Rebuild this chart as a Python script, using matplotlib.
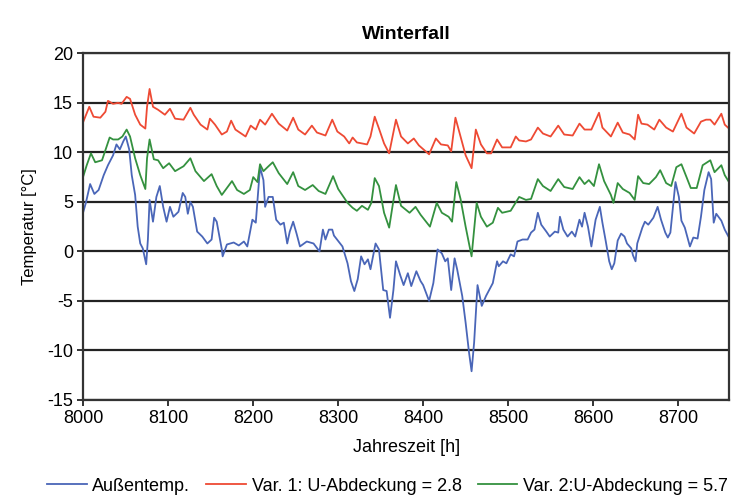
#!/usr/bin/env python3
"""
Winterfall temperature chart

Plots outside temperature and two cover variants over the
last hours of the year (h 8000 - 8760).
"""

import matplotlib
matplotlib.use("Agg")
import matplotlib.pyplot as plt

# Values (hour of year, degC)
hours_aussen = [8000, 8003, 8008, 8013, 8018, 8024, 8029, 8035, 8039, 8043, 8047, 8050, 8054, 8057,
                8061, 8064, 8067, 8070, 8074, 8076, 8078, 8082, 8086, 8090, 8094, 8098, 8102, 8106,
                8112, 8117, 8120, 8123, 8126, 8129, 8134, 8140, 8146, 8151, 8154, 8157, 8163, 8164,
                8169, 8177, 8183, 8189, 8193, 8199, 8203, 8208, 8212, 8214, 8218, 8223, 8227, 8232,
                8236, 8240, 8243, 8247, 8251, 8255, 8263, 8271, 8278, 8282, 8285, 8289, 8293, 8295,
                8305, 8311, 8315, 8319, 8323, 8327, 8331, 8335, 8338, 8344, 8348, 8353, 8357, 8361,
                8365, 8368, 8373, 8377, 8382, 8386, 8392, 8397, 8400, 8407, 8412, 8417, 8422, 8426,
                8429, 8433, 8437, 8440, 8446, 8450, 8454, 8457, 8460, 8464, 8469, 8474, 8479, 8482,
                8487, 8489, 8494, 8498, 8503, 8507, 8511, 8517, 8523, 8527, 8531, 8535, 8539, 8545,
                8549, 8555, 8559, 8561, 8565, 8570, 8575, 8579, 8584, 8587, 8590, 8594, 8598, 8603,
                8608, 8611, 8615, 8619, 8622, 8625, 8629, 8633, 8637, 8640, 8645, 8647, 8650, 8652,
                8658, 8661, 8665, 8671, 8676, 8680, 8685, 8688, 8691, 8697, 8701, 8704, 8708, 8714,
                8718, 8723, 8727, 8731, 8736, 8739, 8742, 8745, 8751, 8755, 8760]
temp_aussen = [4.0, 4.9, 6.8, 5.8, 6.2, 7.7, 8.7, 9.7, 10.8, 10.3, 11.1, 11.6, 10.3, 7.7,
               5.7, 2.5, 0.8, 0.3, -1.3, 1.2, 5.2, 3.0, 5.5, 6.6, 4.5, 3.0, 4.5, 3.5,
               4.0, 5.9, 5.5, 3.8, 5.0, 4.5, 2.0, 1.5, 0.8, 1.2, 3.4, 3.0, 0.2, -0.5,
               0.7, 0.9, 0.6, 1.0, 0.5, 3.2, 2.9, 8.5, 7.2, 4.5, 5.5, 5.5, 3.2, 2.7,
               2.9, 0.8, 2.0, 3.0, 1.8, 0.5, 1.0, 0.8, 0.0, 2.2, 1.2, 2.2, 2.2, 1.6,
               0.5, -1.2, -3.0, -4.0, -2.8, -0.5, -1.3, -0.8, -1.8, 0.8, 0.2, -3.9, -4.0, -6.7,
               -3.9, -1.0, -2.4, -3.4, -2.2, -3.5, -2.0, -3.0, -3.4, -5.0, -3.2, 0.2, -0.2, -1.0,
               -0.7, -3.9, -0.7, -1.8, -4.5, -7.2, -10.2, -12.1, -9.2, -3.4, -5.5, -4.5, -3.7, -3.2,
               -1.0, -1.5, -1.0, -1.2, -0.3, -0.5, 1.0, 1.2, 1.2, 1.9, 2.2, 3.9, 2.7, 2.0,
               1.5, 2.0, 1.9, 3.5, 2.2, 1.5, 2.0, 1.5, 3.2, 2.5, 3.9, 2.5, 0.5, 3.2,
               4.5, 2.9, 1.0, -1.0, -1.8, -1.2, 1.1, 1.8, 1.5, 0.8, 0.3, -0.4, -1.0, 0.8,
               2.4, 3.0, 2.7, 3.4, 4.5, 3.2, 1.9, 1.4, 1.9, 7.0, 5.5, 3.1, 2.4, 0.5,
               1.4, 1.3, 3.5, 6.2, 8.0, 7.3, 2.9, 3.8, 3.1, 2.2, 1.4]

hours_var1 = [8000, 8007, 8012, 8020, 8026, 8029, 8035, 8041, 8045, 8051, 8055, 8061, 8067, 8073,
              8075, 8078, 8082, 8088, 8096, 8102, 8108, 8118, 8126, 8130, 8138, 8146, 8149, 8155,
              8163, 8169, 8174, 8179, 8191, 8197, 8203, 8208, 8214, 8222, 8230, 8240, 8247, 8253,
              8261, 8269, 8275, 8285, 8293, 8299, 8307, 8313, 8317, 8322, 8334, 8338, 8343, 8348,
              8354, 8360, 8364, 8368, 8374, 8382, 8389, 8395, 8407, 8415, 8421, 8429, 8433, 8438,
              8444, 8450, 8457, 8462, 8468, 8475, 8480, 8487, 8493, 8503, 8509, 8513, 8521, 8527,
              8535, 8541, 8550, 8559, 8566, 8576, 8584, 8590, 8598, 8607, 8611, 8621, 8629, 8635,
              8643, 8649, 8653, 8657, 8664, 8672, 8678, 8686, 8694, 8704, 8710, 8719, 8727, 8733,
              8738, 8743, 8751, 8755, 8760]
temp_var1 = [13.1, 14.6, 13.6, 13.5, 14.1, 15.2, 14.9, 15.0, 14.9, 15.6, 15.4, 13.8, 12.8, 12.4,
             14.6, 16.4, 14.6, 14.3, 13.8, 14.4, 13.4, 13.3, 14.5, 13.8, 12.8, 12.3, 13.4, 12.8,
             11.8, 12.1, 13.2, 12.3, 11.6, 12.7, 12.3, 13.3, 12.8, 13.9, 12.9, 12.2, 13.5, 12.3,
             11.8, 12.7, 12.0, 11.7, 13.3, 12.1, 11.6, 10.9, 11.5, 11.0, 10.8, 11.6, 13.6, 12.4,
             10.9, 9.9, 11.6, 13.3, 11.6, 10.9, 11.4, 10.7, 9.8, 11.4, 10.8, 10.7, 10.1, 13.5,
             11.6, 9.7, 8.4, 12.3, 10.8, 9.9, 9.9, 11.3, 10.5, 10.5, 11.6, 11.2, 11.1, 11.3,
             12.5, 11.9, 11.6, 12.7, 11.8, 11.7, 12.9, 12.3, 12.3, 14.0, 12.5, 11.6, 13.0, 12.0,
             11.8, 11.3, 13.8, 12.9, 12.8, 12.3, 13.3, 12.5, 12.1, 13.9, 12.5, 11.9, 13.1, 13.3,
             13.3, 12.8, 13.9, 12.8, 12.4]

hours_var2 = [8000, 8004, 8009, 8014, 8022, 8031, 8035, 8041, 8046, 8051, 8055, 8061, 8067, 8073,
              8075, 8078, 8083, 8088, 8094, 8101, 8108, 8118, 8126, 8132, 8142, 8151, 8157, 8163,
              8169, 8175, 8181, 8189, 8196, 8200, 8205, 8208, 8212, 8218, 8223, 8230, 8240, 8247,
              8253, 8261, 8270, 8277, 8285, 8294, 8300, 8311, 8317, 8322, 8328, 8335, 8339, 8343,
              8348, 8354, 8360, 8364, 8368, 8374, 8384, 8391, 8397, 8408, 8416, 8422, 8430, 8434,
              8439, 8444, 8450, 8457, 8463, 8468, 8475, 8482, 8488, 8493, 8503, 8513, 8521, 8527,
              8535, 8541, 8550, 8559, 8566, 8576, 8584, 8590, 8595, 8601, 8607, 8613, 8621, 8624,
              8629, 8635, 8643, 8649, 8653, 8659, 8666, 8674, 8679, 8686, 8692, 8698, 8704, 8710,
              8715, 8722, 8729, 8738, 8743, 8751, 8755, 8760]
temp_var2 = [7.6, 8.7, 9.9, 9.0, 9.2, 11.5, 11.3, 11.3, 11.6, 12.3, 11.6, 9.4, 7.7, 6.3,
             9.4, 11.3, 9.3, 9.2, 8.4, 8.9, 8.1, 8.6, 9.4, 8.1, 7.1, 7.8, 6.6, 5.7,
             6.4, 7.1, 6.2, 5.8, 6.2, 7.5, 7.0, 8.8, 8.1, 8.6, 9.0, 7.9, 6.8, 8.0,
             6.6, 6.2, 6.7, 6.1, 5.8, 7.6, 6.3, 4.9, 4.4, 4.1, 4.6, 4.2, 4.9, 7.4,
             6.6, 3.9, 2.4, 4.6, 6.7, 4.6, 3.9, 4.5, 3.7, 2.5, 4.9, 3.9, 3.5, 3.0,
             7.0, 5.3, 2.5, -0.5, 4.9, 3.5, 2.5, 2.9, 4.4, 3.9, 4.1, 5.5, 5.2, 5.3,
             7.3, 6.6, 6.1, 7.3, 6.5, 6.3, 7.5, 6.8, 7.2, 6.6, 8.8, 7.1, 5.7, 4.9,
             6.9, 6.3, 5.9, 5.2, 7.6, 6.9, 6.8, 7.5, 8.2, 6.9, 6.6, 8.5, 8.8, 7.5,
             6.4, 6.4, 8.7, 9.2, 8.0, 8.7, 7.7, 7.0]

x_ticks = [8000, 8100, 8200, 8300, 8400, 8500, 8600, 8700]
y_ticks = [-15, -10, -5, 0, 5, 10, 15, 20]

BLUE = "#4a66b8"
RED = "#ee4a34"
GREEN = "#34913f"


def make_chart():
    plt.rcParams["font.family"] = ["Liberation Sans", "DejaVu Sans"]
    plt.rcParams["axes.unicode_minus"] = False
    fig = plt.figure(figsize=(7.38, 4.99), dpi=100)
    ax = fig.add_axes([0.1129, 0.1984, 0.8749, 0.6948])

    ax.plot(hours_aussen, temp_aussen, color=BLUE, lw=1.3, label="Außentemp.")
    ax.plot(hours_var1, temp_var1, color=RED, lw=1.3, label="Var. 1: U-Abdeckung = 2.8")
    ax.plot(hours_var2, temp_var2, color=GREEN, lw=1.3, label="Var. 2:U-Abdeckung = 5.7")

    ax.set_xlim(8000, 8760)
    ax.set_ylim(-15, 20)
    ax.set_xticks(x_ticks)
    ax.set_yticks(y_ticks)
    ax.yaxis.grid(True, color="#222222", lw=1.6)
    ax.set_axisbelow(True)
    for side in ["left", "bottom", "right", "top"]:
        ax.spines[side].set_color("#333333")
        ax.spines[side].set_linewidth(1.6)
    ax.tick_params(axis="both", direction="out", length=4, width=1.4,
                   labelsize=13, color="#333333")

    ax.set_title("Winterfall", fontsize=14, fontweight="bold", pad=10)
    ax.set_xlabel("Jahreszeit [h]", fontsize=13, labelpad=8)
    ax.set_ylabel("Temperatur [°C]", fontsize=12, labelpad=7)

    fig.legend(loc="center", bbox_to_anchor=(0.525, 0.026), ncol=3, frameon=False,
               fontsize=13, handlelength=2.2, handletextpad=0.3, columnspacing=0.9)

    fig.savefig("out.png", dpi=100)


if __name__ == "__main__":
    make_chart()
